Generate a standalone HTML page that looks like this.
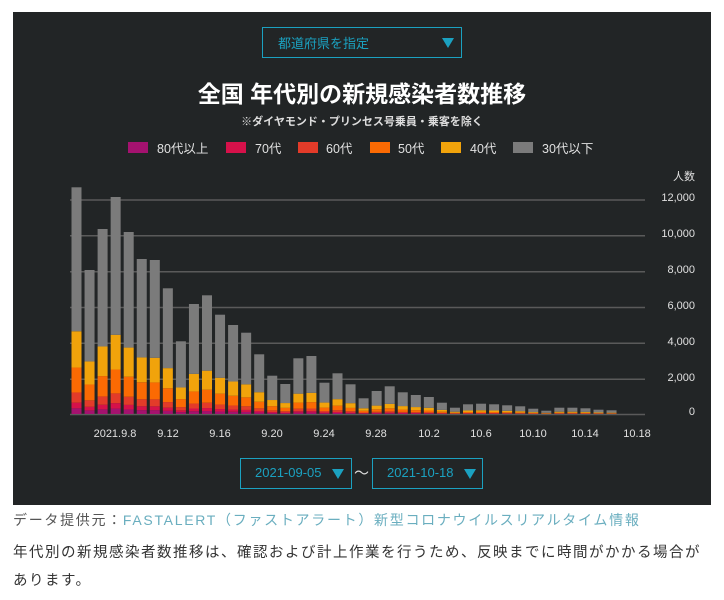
<!DOCTYPE html>
<html><head><meta charset="utf-8"><style>
body{margin:0;width:724px;height:600px;background:#fff;font-family:"Liberation Sans","Noto Sans CJK JP",sans-serif;position:relative;overflow:hidden}
.box{position:absolute;left:13px;top:12px;width:698px;height:493px;background:#222526}
.sel{position:absolute;border:1px solid #1ba1c0;color:#1ba1c0;box-sizing:border-box;font-size:13px}
.tri{position:absolute;width:0;height:0;border-left:6px solid transparent;border-right:6px solid transparent;border-top:10px solid #1ba1c0}
.t{position:absolute;white-space:nowrap}
</style></head><body>
<div class="box"></div>
<div class="sel" style="left:262px;top:27px;width:200px;height:31px"><span class="t" style="left:15px;top:5px">都道府県を指定</span><div class="tri" style="left:179px;top:10px"></div></div>
<div class="t" style="left:0;width:724px;text-align:center;top:75px;color:#fff;font-size:23px;font-weight:bold">全国 年代別の新規感染者数推移</div>
<div class="t" style="left:0;width:724px;text-align:center;top:113px;color:#ddd;font-size:11px;font-weight:bold">※ダイヤモンド・プリンセス号乗員・乗客を除く</div>
<svg style="position:absolute;left:0;top:0" width="724" height="600">
<g font-size="12.5" fill="#e0e0e0" font-family="Liberation Sans,Noto Sans CJK JP,sans-serif">
<rect x="128" y="142" width="20" height="11" fill="#a4126f"/><text x="157" y="153">80代以上</text>
<rect x="226" y="142" width="20" height="11" fill="#d6114a"/><text x="255" y="153">70代</text>
<rect x="298" y="142" width="20" height="11" fill="#e33b29"/><text x="326" y="153">60代</text>
<rect x="370" y="142" width="20" height="11" fill="#fb6a03"/><text x="398" y="153">50代</text>
<rect x="441" y="142" width="20" height="11" fill="#f1a30b"/><text x="470" y="153">40代</text>
<rect x="513" y="142" width="20" height="11" fill="#7b7b7b"/><text x="542" y="153">30代以下</text>
</g>
<g stroke="#5a5a5a" stroke-width="1.5">
<line x1="70" x2="645" y1="200" y2="200"/><line x1="70" x2="645" y1="235.8" y2="235.8"/><line x1="70" x2="645" y1="271.7" y2="271.7"/><line x1="70" x2="645" y1="307.5" y2="307.5"/><line x1="70" x2="645" y1="343.3" y2="343.3"/><line x1="70" x2="645" y1="379.2" y2="379.2"/><line x1="70" x2="645" y1="414.5" y2="414.5"/>
</g>
<g id="bars"></g>
<g font-size="11" fill="#e0e0e0" text-anchor="end" font-family="Liberation Sans,sans-serif">
<text x="695" y="180">人数</text>
<text x="695" y="201">12,000</text><text x="695" y="237">10,000</text><text x="695" y="273">8,000</text><text x="695" y="309">6,000</text><text x="695" y="345">4,000</text><text x="695" y="381">2,000</text><text x="695" y="415">0</text>
</g>
<g font-size="11" fill="#e0e0e0" text-anchor="middle" font-family="Liberation Sans,sans-serif">
<text x="115" y="437">2021.9.8</text><text x="168" y="437">9.12</text><text x="220" y="437">9.16</text><text x="272" y="437">9.20</text><text x="324" y="437">9.24</text><text x="376" y="437">9.28</text><text x="429" y="437">10.2</text><text x="481" y="437">10.6</text><text x="533" y="437">10.10</text><text x="585" y="437">10.14</text><text x="637" y="437">10.18</text>
</g>
</svg>
<div class="sel" style="left:240px;top:458px;width:112px;height:31px"><span class="t" style="left:14px;top:6px">2021-09-05</span><div class="tri" style="left:91px;top:10px"></div></div>
<div class="t" style="left:354px;top:462px;color:#ddd;font-size:15px">〜</div>
<div class="sel" style="left:372px;top:458px;width:111px;height:31px"><span class="t" style="left:14px;top:6px">2021-10-18</span><div class="tri" style="left:91px;top:10px"></div></div>
<div class="t" style="left:13px;top:510px;font-size:14px;color:#555;letter-spacing:1.7px">データ提供元：<span style="color:#6aaebf">FASTALERT（ファストアラート）新型コロナウイルスリアルタイム情報</span></div>
<div class="t" style="left:13px;top:541px;font-size:14.5px;color:#333;letter-spacing:1.5px">年代別の新規感染者数推移は、確認および計上作業を行うため、反映までに時間がかかる場合が</div>
<div class="t" style="left:13px;top:569px;font-size:14.5px;color:#333;letter-spacing:1.5px">あります。</div>
<script>
var h=[226.7,144,185,217,182,155,154,125.7,72.7,110,118.7,99.3,89,81.3,59.7,38.3,30,55.7,58,31.3,40.7,29.7,15.7,23,27.7,21.7,19,17,11.3,6.3,9.7,10.3,9.7,8.7,7.7,5.3,3.3,6.3,6.3,5.7,4.3,3.7];
var f=[0.025,0.025,0.045,0.11,0.16,0.635],c=["#a4126f","#d6114a","#e33b29","#fb6a03","#f1a30b","#7b7b7b"];
var s="";
for(var i=0;i<h.length;i++){var x=71.5+i*13.05,y=414;for(var k=0;k<6;k++){var hh=h[i]*f[k];y-=hh;s+='<rect x="'+x+'" y="'+y+'" width="10" height="'+hh+'" fill="'+c[k]+'"/>';}}
document.getElementById("bars").innerHTML=s;
</script>
</body></html>
